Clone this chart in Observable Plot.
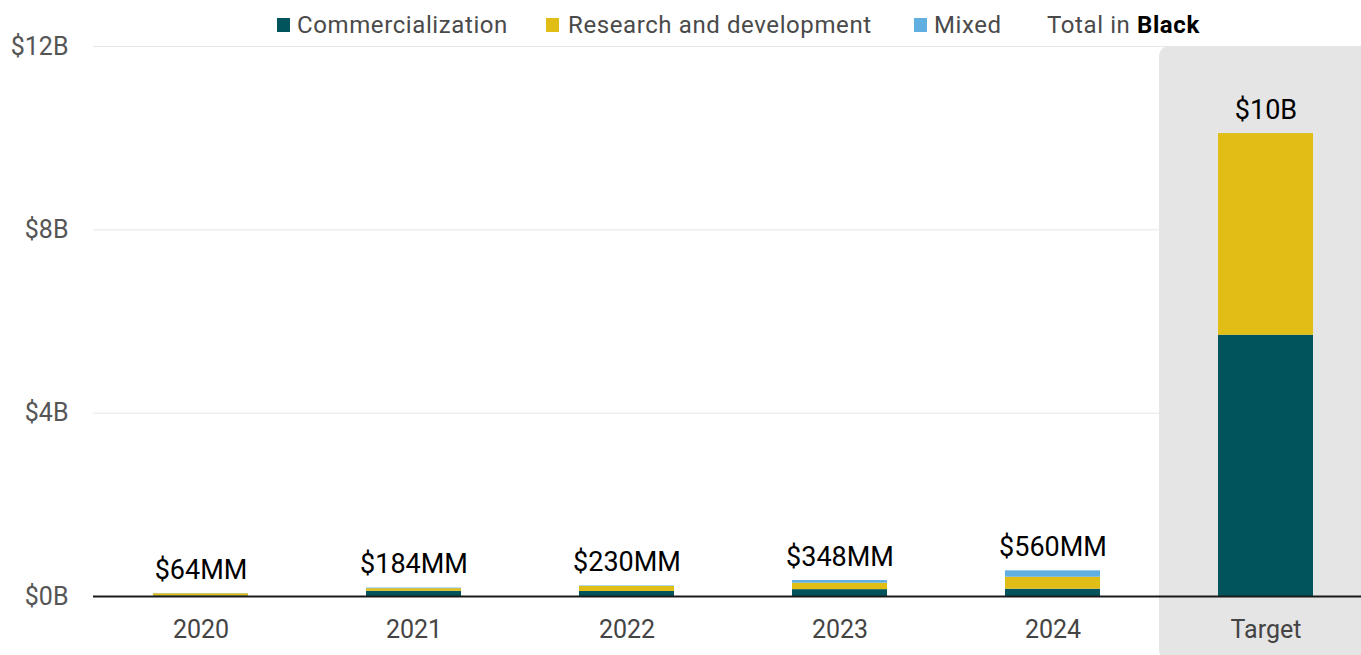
<!DOCTYPE html>
<html>
<head>
<meta charset="utf-8">
<script src="https://cdn.jsdelivr.net/npm/d3@7"></script>
<script src="https://cdn.jsdelivr.net/npm/@observablehq/plot@0.6"></script>
<style>
  html, body { margin: 0; padding: 0; background: #fff; }
  #legend { position: relative; height: 40px; width: 1361px; font-family: Roboto, sans-serif; font-size: 24px; letter-spacing: 0.6px; color: #4a4a4a; }
  #legend .sw { position: absolute; top: 18px; width: 13px; height: 14px; }
  #legend .lb { position: absolute; top: 9px; line-height: 32px; white-space: nowrap; }
  #chart svg { display: block; }
</style>
</head>
<body>
<div id="legend"></div>
<div id="chart"></div>
<script>
const categories = ["2020", "2021", "2022", "2023", "2024", "Target"];
const seriesNames = ["Commercialization", "Research and development", "Mixed"];
const seriesColors = ["#01545b", "#e0be15", "#61aee0"];
const commercialization = [0.012, 0.115, 0.11, 0.15, 0.16, 5.7];
const researchDev = [0.048, 0.055, 0.11, 0.14, 0.26, 4.4];
const mixed = [0.004, 0.014, 0.01, 0.058, 0.14, 0];
const totalLabels = ["$64MM", "$184MM", "$230MM", "$348MM", "$560MM", "$10B"];
const yTicks = [0, 4, 8, 12];

// legend
const legend = document.getElementById("legend");
const legendItems = [
  {sw: 277, tx: 297, text: seriesNames[0], color: seriesColors[0]},
  {sw: 546, tx: 568, text: seriesNames[1], color: seriesColors[1]},
  {sw: 914, tx: 934, text: seriesNames[2], color: seriesColors[2]}
];
for (const it of legendItems) {
  const s = document.createElement("div");
  s.className = "sw"; s.style.left = it.sw + "px"; s.style.background = it.color;
  legend.appendChild(s);
  const t = document.createElement("div");
  t.className = "lb"; t.style.left = it.tx + "px"; t.textContent = it.text;
  legend.appendChild(t);
}
const tot = document.createElement("div");
tot.className = "lb"; tot.style.left = "1047px";
tot.innerHTML = 'Total in <b style="color:#000">Black</b>';
legend.appendChild(tot);

const data = categories.flatMap((c, i) => [
  {cat: c, series: seriesNames[0], value: commercialization[i]},
  {cat: c, series: seriesNames[1], value: researchDev[i]},
  {cat: c, series: seriesNames[2], value: mixed[i]}
]);
const totals = categories.map((c, i) => commercialization[i] + researchDev[i] + mixed[i]);

const chart = Plot.plot({
  width: 1361,
  height: 615,
  marginTop: 6,
  marginBottom: 59,
  marginLeft: 93,
  marginRight: 0,
  style: {fontFamily: "Roboto, sans-serif", overflow: "visible"},
  x: {domain: categories, range: [93.5, 1371.5], padding: 0},
  y: {domain: [0, 12]},
  color: {domain: seriesNames, range: seriesColors},
  marks: [
    Plot.gridY(yTicks, {stroke: "#e6e6e6", strokeOpacity: 1, strokeWidth: 1}),
    Plot.barY(["Target"], {x: d => d, y1: d => -1.4, y2: d => 12, fill: "#e5e5e5", rx: 10}),
    Plot.barY(data, {x: "cat", y: "value", fill: "series", insetLeft: 59, insetRight: 59}),
    Plot.ruleY([0], {stroke: "#1a1a1a", strokeWidth: 2}),
    Plot.text(categories, {x: d => d, y: (d, i) => totals[i], text: (d, i) => totalLabels[i],
      dy: -15, lineAnchor: "bottom", fontSize: 27, fill: "#000"}),
    Plot.axisY({ticks: yTicks, tickFormat: d => `$${d}B`, tickSize: 0, tickPadding: 25,
      fontSize: 25, color: "#555", label: null}),
    Plot.axisX({tickSize: 0, tickPadding: 24, fontSize: 25, color: "#444", label: null})
  ]
});
document.getElementById("chart").appendChild(chart);
</script>
</body>
</html>
